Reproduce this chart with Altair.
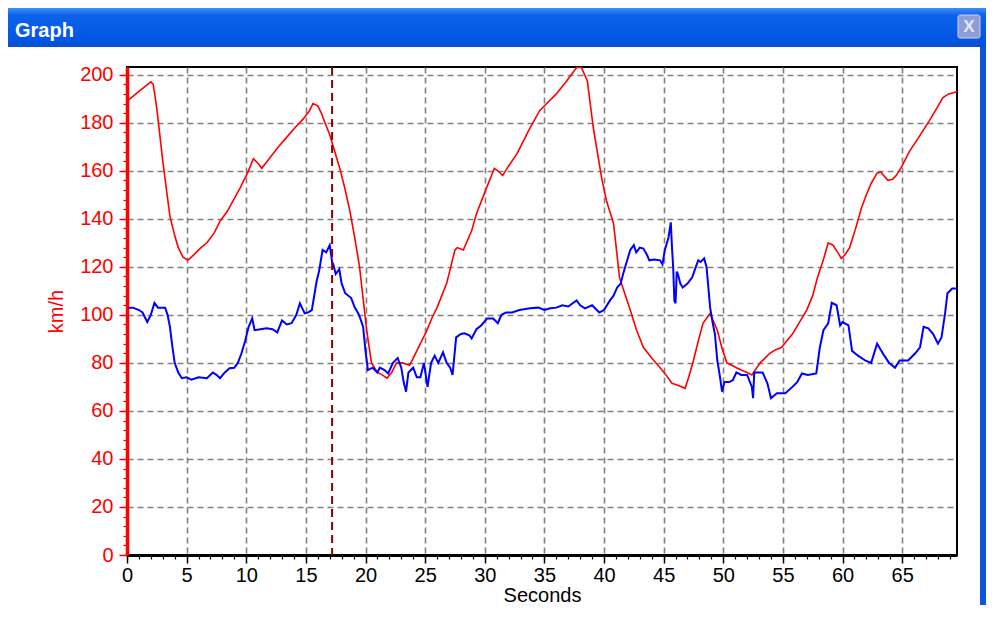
import altair as alt
import pandas as pd

# ---------------- data ----------------
red_t = [0, 0.5, 1.0, 1.5, 2.0, 2.2, 2.5, 3.0, 3.6, 4.0, 4.3, 4.7, 5.1, 5.6, 6.2, 6.7, 7.3, 7.8,
         8.4, 8.9, 9.5, 10.1, 10.6, 11.0, 11.3, 12.0, 12.7, 13.4, 14.1, 14.8, 15.3, 15.6, 16.0,
         16.3, 16.6, 17.0, 17.3, 17.9, 18.3, 18.7, 19.1, 19.5, 20.1, 20.5, 21.0, 21.4, 21.8,
         22.2, 22.6, 23.1, 23.7, 24.0, 24.6, 25.1, 25.6, 26.0, 26.8, 27.5, 27.7, 28.2, 28.9,
         29.3, 30.0, 30.8, 31.1, 31.5, 32.0, 32.7, 33.6, 34.6, 35.3, 36.0, 36.8, 37.7, 38.1,
         38.6, 39.1, 39.8, 40.2, 40.8, 41.3, 41.8, 42.2, 42.7, 43.3, 44.0, 44.7, 45.2, 45.7,
         46.3, 46.8, 47.1, 47.5, 47.9, 48.3, 48.9, 49.5, 49.9, 50.3, 50.7, 51.1, 51.5, 52.0,
         52.4, 53.1, 53.5, 53.9, 54.4, 54.9, 55.3, 55.8, 56.4, 57.0, 57.5, 57.9, 58.4, 58.8,
         59.2, 59.6, 59.9, 60.2, 60.6, 61.1, 61.6, 62.0, 62.4, 62.9, 63.2, 63.8, 64.2, 64.5,
         65.0, 65.6, 66.4, 67.3, 67.9, 68.4, 68.9, 69.3, 69.6]
red_v = [189, 191, 193, 195, 197, 196, 186, 164, 141, 133, 128, 124, 122.7, 125, 128, 130, 134,
         139, 143, 147.6, 153, 159, 165, 163, 161, 165.5, 170, 174, 178, 181.7, 185, 188, 187,
         184, 180, 175, 170, 160, 152, 143, 132, 120, 93.5, 80, 76, 75, 73.6, 76, 80, 80, 79,
         82, 88, 93, 99, 103, 113, 127, 128, 127, 135, 142, 151, 161, 160, 158, 162, 167, 176,
         185, 188.5, 192, 197, 203, 203, 197.5, 178, 157, 147.6, 138, 115.6, 108, 102, 94,
         86.5, 82, 78, 75, 71.5, 70.5, 69.4, 74, 81, 89, 96.5, 100.6, 93.6, 86, 80, 79, 78, 77,
         76, 75, 80, 82, 84, 85.5, 86.5, 89, 92, 97, 102, 108, 115.6, 123, 130, 129, 126, 123.5,
         125, 128, 136, 144.7, 150, 154.7, 159, 159.5, 156, 156.5, 158, 162, 168, 174, 181, 186,
         190.4, 192, 192.5, 193]

blue_t = [0.1, 0.5, 1.0, 1.3, 1.7, 2.0, 2.3, 2.6, 2.8, 3.2, 3.4, 3.6, 3.8, 4.0, 4.3, 4.6, 5.0,
          5.4, 6.0, 6.7, 7.2, 7.5, 7.8, 8.2, 8.6, 9.0, 9.3, 9.6, 9.9, 10.2, 10.5, 10.7, 11.2,
          11.7, 12.2, 12.6, 13.0, 13.4, 13.8, 14.2, 14.5, 14.9, 15.2, 15.5, 15.9, 16.1, 16.4,
          16.7, 17.0, 17.2, 17.3, 17.5, 17.8, 18.0, 18.3, 18.8, 19.1, 19.4, 19.6, 19.8, 20.0,
          20.2, 20.6, 21.0, 21.2, 21.6, 21.9, 22.3, 22.7, 23.0, 23.2, 23.4, 23.6, 24.0, 24.3,
          24.6, 24.9, 25.2, 25.5, 25.8, 26.1, 26.5, 26.8, 27.1, 27.3, 27.6, 28.0, 28.3, 28.7,
          28.9, 29.3, 29.7, 30.2, 30.7, 31.1, 31.4, 31.8, 32.3, 32.9, 33.8, 34.5, 35.0, 35.5,
          36.0, 36.5, 37.0, 37.7, 38.0, 38.4, 39.0, 39.6, 40.0, 40.5, 40.8, 41.1, 41.4, 41.6,
          41.9, 42.2, 42.5, 42.7, 43.0, 43.3, 43.6, 43.8, 44.2, 44.7, 44.9, 45.1, 45.4, 45.6,
          45.7, 45.8, 45.9, 46.0, 46.1, 46.2, 46.4, 46.6, 47.0, 47.4, 47.7, 47.9, 48.1, 48.4,
          48.6, 48.9, 49.1, 49.3, 49.5, 49.7, 49.9, 50.1, 50.5, 50.8, 51.1, 51.5, 52.0, 52.4,
          52.5, 52.6, 53.0, 53.3, 53.7, 54.0, 54.5, 55.2, 55.8, 56.2, 56.6, 57.1, 57.8, 58.1,
          58.4, 58.8, 59.1, 59.5, 59.8, 60.0, 60.5, 60.8, 61.3, 61.9, 62.4, 62.9, 63.5, 63.9,
          64.4, 64.8, 65.5, 66.1, 66.5, 66.8, 67.2, 67.6, 68.0, 68.3, 68.6, 68.8, 69.2, 69.6]
blue_v = [103, 103, 102, 101, 97, 100, 105, 103, 103, 103, 100, 95, 87, 80, 76, 73.6, 74, 73,
          74, 73.6, 76, 75, 73.6, 76, 77.8, 78, 80, 84, 89, 95, 98.5, 93.6, 94, 94.4, 94, 92.7,
          97.7, 96, 96.5, 100, 104.8, 100.6, 101, 102, 114, 118, 127, 126, 129, 122, 121, 117,
          119, 113, 109, 107, 103, 100.6, 98, 95, 85, 77, 78, 76, 78, 77, 75.6, 80, 82, 78, 72,
          68, 76, 78, 74, 74, 80, 70, 80, 83, 80, 84.4, 80, 78, 75, 90.6, 92, 92.3, 91.5, 90.2,
          94, 95.6, 98.5, 98.5, 96.5, 100, 101, 101, 102, 102.7, 103, 102, 102.7, 103, 104,
          103.5, 106, 104, 102.7, 104, 101, 102, 106, 108, 111.4, 113, 117, 122, 127, 129, 126,
          128, 127.6, 125, 122.7, 123, 122.7, 121, 127, 132, 138.5, 128, 119.8, 106, 104.8, 118,
          117, 113, 111.4, 113, 115.6, 120, 122.7, 122, 123.5, 119.8, 103, 97, 92, 81, 75, 68,
          72, 72, 72.8, 76, 75, 75, 70, 65.3, 76, 76, 76, 71.5, 65.3, 67.4, 67.4, 70, 72, 75.6,
          75, 75.6, 86.5, 93.6, 96.5, 105, 104, 95.6, 97, 95.6, 85, 83, 81, 80, 88, 83, 80, 78,
          81, 81, 84, 86.5, 95, 94.4, 92, 88, 90.6, 100.6, 109, 111, 111]

marker_t = [17.2]                      # dashed cursor line
x_ticks = list(range(0, 70, 5))        # labelled seconds
x_minor = list(range(0, 70))           # minor ticks
y_ticks = list(range(0, 201, 20))      # labelled km/h
y_minor = list(range(0, 204, 4))       # minor ticks
x_domain = [0, 69.6]
y_domain = [0, 203.2]
window_title = ["Graph"]

W, H = 830, 488
PAD_L, PAD_T, PAD_R, PAD_B = 119, 59, 29, 50
FONT = "Liberation Sans"

red_df = pd.DataFrame({"t": red_t, "v": red_v})
blue_df = pd.DataFrame({"t": blue_t, "v": blue_v})
one = pd.DataFrame({"k": window_title})

xs = alt.Scale(domain=x_domain, nice=False, zero=False)
ys = alt.Scale(domain=y_domain, nice=False)

# ---------- red series, carries the main axes and grid ----------
red = alt.Chart(red_df).mark_line(color="#FF0000", strokeWidth=1.6).encode(
    x=alt.X("t:Q", scale=xs, axis=alt.Axis(
        orient="bottom", values=x_ticks, format="d", grid=True, gridColor="#808080",
        gridDash=[6, 4], gridWidth=1.6, tickSize=8, tickColor="black", tickWidth=1.5,
        domainColor="black", domainWidth=3, labelColor="black", labelFontSize=20,
        labelFont=FONT, labelPadding=2, labelFlush=False, title="Seconds", titleFont=FONT,
        titleFontSize=20, titleFontWeight="normal", titleColor="black", titleBaseline="top",
        titleY=30, titleX=W / 2)),
    y=alt.Y("v:Q", scale=ys, axis=alt.Axis(
        orient="left", values=y_ticks, format="d", grid=True, gridColor="#808080",
        gridDash=[6, 4], gridWidth=1.6, tickSize=8, tickColor="#FF0000", tickWidth=1.5,
        domainColor="#FF0000", domainWidth=3.5, labelColor="#FF0000", labelFontSize=20,
        labelFont=FONT, labelPadding=6, labelFlush=False, title="km/h", titleFont=FONT,
        titleFontSize=20, titleFontWeight="normal", titleColor="#FF0000", titleAngle=-90,
        titleBaseline="bottom", titleAlign="center", titleX=-61, titleY=H / 2)),
)

# ---------- blue series, carries the minor ticks ----------
blue = alt.Chart(blue_df).mark_line(color="#0000FF", strokeWidth=2).encode(
    x=alt.X("t:Q", scale=xs, axis=alt.Axis(
        orient="bottom", values=x_minor, tickSize=4, tickColor="black", tickWidth=1.2,
        labels=False, domain=False, grid=False, title=None)),
    y=alt.Y("v:Q", scale=ys, axis=alt.Axis(
        orient="left", values=y_minor, tickSize=4, tickColor="#FF0000", tickWidth=1.2,
        labels=False, domain=False, grid=False, title=None)),
)

marker = alt.Chart(pd.DataFrame({"t": marker_t})).mark_rule(
    color="#8B0000", strokeDash=[8, 5], strokeWidth=2).encode(
    x=alt.X("t:Q", scale=xs, axis=None))

# ---------- window frame decoration ----------
title_grad = alt.Gradient(
    gradient="linear", x1=0, x2=0, y1=0, y2=1,
    stops=[alt.GradientStop(offset=0, color="#3D8EF6"),
           alt.GradientStop(offset=0.18, color="#0D62EA"),
           alt.GradientStop(offset=0.8, color="#0256E3"),
           alt.GradientStop(offset=1, color="#0A4FD2")])
title_bar = alt.Chart(one).mark_rect(fill=title_grad).encode(
    x=alt.value(-PAD_L), x2=alt.value(W + PAD_R), y=alt.value(-PAD_T), y2=alt.value(-20))
right_border = alt.Chart(one).mark_rect(fill="#0A55DC").encode(
    x=alt.value(W + PAD_R - 6), x2=alt.value(W + PAD_R), y=alt.value(-20), y2=alt.value(H + PAD_B))
title_text = alt.Chart(one).mark_text(
    align="left", baseline="alphabetic", font=FONT, fontSize=20, fontWeight="bold",
    color="white").encode(text="k:N", x=alt.value(-112), y=alt.value(-30))
close_btn = alt.Chart(one).mark_rect(
    fill="#8E9DD6", stroke="#C9D1F0", strokeWidth=1, cornerRadius=2).encode(
    x=alt.value(831), x2=alt.value(853), y=alt.value(-52), y2=alt.value(-29))
close_x = alt.Chart(pd.DataFrame({"k": ["X"]})).mark_text(
    font=FONT, fontSize=17, fontWeight="bold", color="#E4E8F6", align="center",
    baseline="middle").encode(text="k:N", x=alt.value(842), y=alt.value(-40))

chart = alt.layer(
    title_bar, right_border, title_text, close_btn, close_x, red, blue, marker
).resolve_axis(x="independent", y="independent").properties(
    width=W, height=H,
    padding={"left": PAD_L, "top": PAD_T, "right": PAD_R, "bottom": PAD_B},
    autosize=alt.AutoSizeParams(type="none"),
    background="white",
).configure_view(stroke="black", strokeWidth=2)

chart.save("out.html", embed_options={"renderer": "svg", "actions": False})
